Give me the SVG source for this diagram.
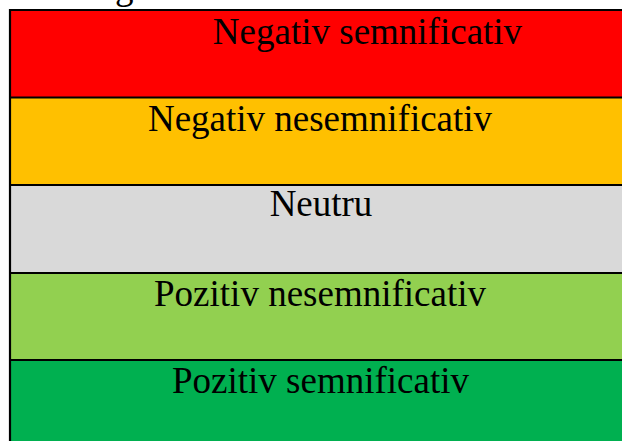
<svg xmlns="http://www.w3.org/2000/svg" width="622" height="441" viewBox="0 0 622 441">
  <style>
    .lbl { font-family: "Liberation Serif", "Times New Roman", serif; font-size: 37px; fill: #000; }
    .grid { stroke: #000; stroke-width: 2.2; fill: none; }
  </style>
  <rect x="0" y="0" width="622" height="441" fill="#fff"/>
  <!-- caption line above the table (mostly outside the page) -->
  <text x="115" y="-1" class="lbl" font-size="29">g</text>

  <g id="row-neg-sig">
    <rect x="10" y="10" width="620" height="87.5" fill="#FF0000"/>
    <text x="367.5" y="44" class="lbl" text-anchor="middle">Negativ semnificativ</text>
  </g>
  <g id="row-neg-nonsig">
    <rect x="10" y="97.5" width="620" height="87.5" fill="#FFC000"/>
    <text x="320" y="131" class="lbl" text-anchor="middle">Negativ nesemnificativ</text>
  </g>
  <g id="row-neutral">
    <rect x="10" y="185" width="620" height="88" fill="#D9D9D9"/>
    <text x="321" y="216" class="lbl" text-anchor="middle">Neutru</text>
  </g>
  <g id="row-pos-nonsig">
    <rect x="10" y="273" width="620" height="87" fill="#92D050"/>
    <text x="320" y="306" class="lbl" text-anchor="middle">Pozitiv nesemnificativ</text>
  </g>
  <g id="row-pos-sig">
    <rect x="10" y="360" width="620" height="90" fill="#00B050"/>
    <text x="320.5" y="393" class="lbl" text-anchor="middle">Pozitiv semnificativ</text>
  </g>

  <!-- table rules -->
  <g id="rules" class="grid">
    <line x1="10" y1="10" x2="630" y2="10"/>
    <line x1="10" y1="97.5" x2="630" y2="97.5"/>
    <line x1="10" y1="185" x2="630" y2="185"/>
    <line x1="10" y1="273" x2="630" y2="273"/>
    <line x1="10" y1="360" x2="630" y2="360"/>
    <line x1="10" y1="9" x2="10" y2="450"/>
  </g>
</svg>
